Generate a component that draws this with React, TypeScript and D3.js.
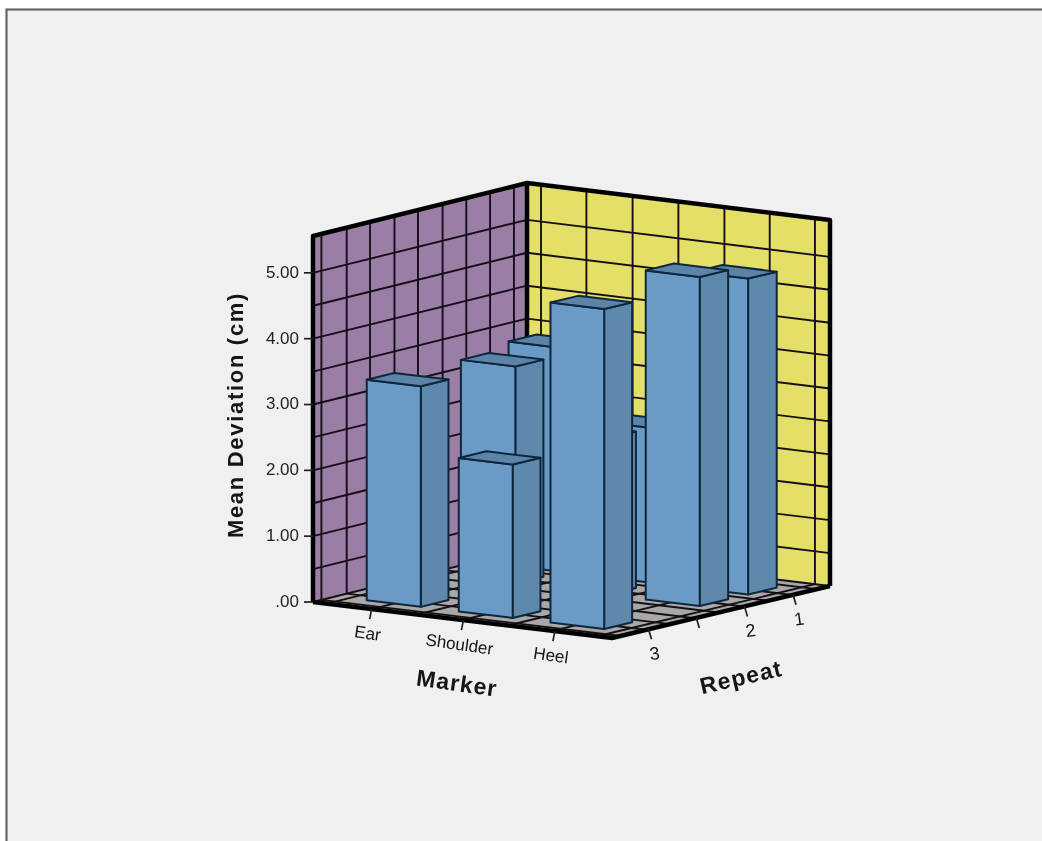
import { useRef, useEffect } from 'react';
import * as d3 from 'd3';

const markers = ['Ear', 'Shoulder', 'Heel'];
const repeats = ['3', '', '2', '1'];
const valueTicks = [0, 1, 2, 3, 4, 5];
const valueLabels = ['.00', '1.00', '2.00', '3.00', '4.00', '5.00'];

// mean deviation per marker, one entry per repeat row (blank row has no bars)
const earValues = [3.35, null, 3.3, 3.4];
const shoulderValues = [2.33, null, 2.38, 2.35];
const heelValues = [4.86, null, 5.0, 4.8];
const seriesByMarker = [earValues, shoulderValues, heelValues];

const gridU = [0.046, 0.195, 0.347, 0.498, 0.65, 0.8, 0.95];
const gridV = [0.04, 0.16, 0.27, 0.385, 0.495, 0.61, 0.72, 0.83, 0.94];
const gridValues = d3.range(0, 5.5, 0.5);

// floor corners on screen: A front left, D front, C right, B back
const A: [number, number] = [313, 602];
const D: [number, number] = [612, 638];
const C: [number, number] = [830, 586];
const B: [number, number] = [527, 549];

const width = 1042;
const height = 841;

const uScale = d3.scalePoint<string>().domain(markers).range([0.195, 0.808]);
const vScale = d3.scalePoint<string>().domain(repeats.map((r, i) => `${i}:${r}`)).range([0.17, 0.833]);
const yScale = d3.scaleLinear().domain([0, 5.56]).range([0, 366]);

const halfU = 0.09;
const halfV = 0.065;

// square to quad homography for the floor
const sx = A[0] - D[0] + C[0] - B[0];
const sy = A[1] - D[1] + C[1] - B[1];
const dx1 = D[0] - C[0];
const dx2 = B[0] - C[0];
const dy1 = D[1] - C[1];
const dy2 = B[1] - C[1];
const det = dx1 * dy2 - dx2 * dy1;
const hg = (sx * dy2 - dx2 * sy) / det;
const hh = (dx1 * sy - sx * dy1) / det;

function project(u: number, v: number, value = 0): [number, number] {
  const w = 1 + hg * u + hh * v;
  const x = (A[0] + (D[0] - A[0] + hg * D[0]) * u + (B[0] - A[0] + hh * B[0]) * v) / w;
  const y = (A[1] + (D[1] - A[1] + hg * D[1]) * u + (B[1] - A[1] + hh * B[1]) * v) / w;
  return [x, y - yScale(value)];
}

const polygon = d3.line().curve(d3.curveLinearClosed);

const PURPLE = '#9a7ea6';
const YELLOW = '#e4df66';
const FLOOR = '#a8a8a8';
const FRONT = '#6b9ac6';
const SIDE = '#5f88ad';
const TOP = '#5c84a9';
const EDGE = '#10283c';
const font = '"Liberation Sans", Arial, sans-serif';

export default function App() {
  const svgRef = useRef<SVGSVGElement>(null);

  useEffect(() => {
    const root = d3.select(svgRef.current);
    root.selectAll('*').remove();

    // the reference is a soft, upscaled screenshot
    root.append('defs').append('filter').attr('id', 'soft')
      .attr('x', 0).attr('y', 0).attr('width', 1).attr('height', 1)
      .append('feGaussianBlur').attr('stdDeviation', 0.6);

    const svg = root.append('g').attr('filter', 'url(#soft)');

    svg.append('rect').attr('width', width).attr('height', height).attr('fill', '#ffffff');
    svg.append('rect').attr('x', 6.5).attr('y', 9.5).attr('width', width + 20).attr('height', height + 20)
      .attr('fill', '#f0f0f0').attr('stroke', '#666666').attr('stroke-width', 2.2);

    const top = yScale.domain()[1];

    // walls and floor
    svg.append('path').attr('d', polygon([project(0, 0), project(0, 1), project(0, 1, top), project(0, 0, top)])).attr('fill', PURPLE);
    svg.append('path').attr('d', polygon([project(0, 1), project(1, 1), project(1, 1, top), project(0, 1, top)])).attr('fill', YELLOW);
    svg.append('path').attr('d', polygon([project(0, 0), project(1, 0), project(1, 1), project(0, 1)])).attr('fill', FLOOR);

    const gridLine = (p: [number, number], q: [number, number]) => {
      svg.append('line').attr('x1', p[0]).attr('y1', p[1]).attr('x2', q[0]).attr('y2', q[1])
        .attr('stroke', '#161016').attr('stroke-width', 1.9);
    };
    gridV.forEach((v) => {
      gridLine(project(0, v), project(0, v, top));
      gridLine(project(0, v), project(1, v));
    });
    gridU.forEach((u) => {
      gridLine(project(u, 1), project(u, 1, top));
      gridLine(project(u, 0), project(u, 1));
    });
    gridValues.forEach((val) => {
      gridLine(project(0, 0, val), project(0, 1, val));
      gridLine(project(0, 1, val), project(1, 1, val));
    });

    // frame of the box
    const frame = d3.line();
    svg.append('path')
      .attr('d', frame([project(0, 0), project(0, 0, top), project(0, 1, top), project(1, 1, top), project(1, 1)]))
      .attr('fill', 'none').attr('stroke', '#050505').attr('stroke-width', 4.5).attr('stroke-linejoin', 'round');
    svg.append('path')
      .attr('d', frame([project(0, 1), project(0, 1, top)]))
      .attr('fill', 'none').attr('stroke', '#050505').attr('stroke-width', 4.5);
    svg.append('path')
      .attr('d', frame([project(0, 0), project(1, 0), project(1, 1)]))
      .attr('fill', 'none').attr('stroke', '#050505').attr('stroke-width', 4.5).attr('stroke-linejoin', 'round');

    // bars, far rows first so nearer ones paint over them
    const bars = seriesByMarker.flatMap((values, m) =>
      values.map((value, r) => ({ m, r, value })).filter((d) => d.value !== null));
    bars.sort((a, b) => b.r - a.r || a.m - b.m);

    bars.forEach(({ m, r, value }) => {
      const uc = uScale(markers[m])!;
      const vc = vScale(`${r}:${repeats[r]}`)!;
      const u0 = uc - halfU;
      const u1 = uc + halfU;
      const v0 = vc - halfV;
      const v1 = vc + halfV;
      const val = value as number;
      const g = svg.append('g').attr('stroke', EDGE).attr('stroke-width', 2).attr('stroke-linejoin', 'round');
      g.append('path').attr('fill', SIDE)
        .attr('d', polygon([project(u1, v0), project(u1, v1), project(u1, v1, val), project(u1, v0, val)]));
      g.append('path').attr('fill', FRONT)
        .attr('d', polygon([project(u0, v0), project(u1, v0), project(u1, v0, val), project(u0, v0, val)]));
      g.append('path').attr('fill', TOP)
        .attr('d', polygon([project(u0, v0, val), project(u1, v0, val), project(u1, v1, val), project(u0, v1, val)]));
    });

    // value axis
    valueTicks.forEach((tick, i) => {
      const [x, y] = project(0, 0, tick);
      svg.append('line').attr('x1', x - 9).attr('y1', y).attr('x2', x).attr('y2', y)
        .attr('stroke', '#222').attr('stroke-width', 1.7);
      svg.append('text').attr('x', x - 14).attr('y', y - 1).attr('dy', '0.35em')
        .attr('text-anchor', 'end').attr('font-family', font).attr('font-size', 17).attr('fill', '#222')
        .text(valueLabels[i]);
    });

    const tiltedText = (x: number, y: number, angle: number, size: number, weight: string, label: string, spacing = 0) => {
      svg.append('text').attr('transform', `translate(${x},${y}) rotate(${angle})`)
        .attr('text-anchor', 'middle').attr('dy', '0.35em')
        .attr('font-family', font).attr('font-size', size).attr('font-weight', weight)
        .attr('letter-spacing', spacing).attr('fill', '#141414').text(label);
    };

    // marker axis
    markers.forEach((name) => {
      const [x, y] = project(uScale(name)!, 0);
      svg.append('line').attr('x1', x).attr('y1', y).attr('x2', x - 2).attr('y2', y + 10)
        .attr('stroke', '#222').attr('stroke-width', 1.7);
      tiltedText(x - 4, y + 24, 8, 17, 'normal', name);
    });

    // repeat axis
    repeats.forEach((name, i) => {
      const [x, y] = project(1, vScale(`${i}:${name}`)!);
      svg.append('line').attr('x1', x).attr('y1', y).attr('x2', x + 3).attr('y2', y + 10)
        .attr('stroke', '#222').attr('stroke-width', 1.7);
      if (name) tiltedText(x + 6, y + 24, -8, 18, 'normal', name);
    });

    // axis titles
    tiltedText(457, 683, 8, 23, 'bold', 'Marker', 1);
    tiltedText(741, 677, -13, 23, 'bold', 'Repeat', 1.2);
    tiltedText(235, 415, -90, 22, 'bold', 'Mean Deviation (cm)', 1.7);
  }, []);

  return <svg ref={svgRef} width={width} height={height} style={{ position: 'absolute', left: 0, top: 0 }} />;
}
